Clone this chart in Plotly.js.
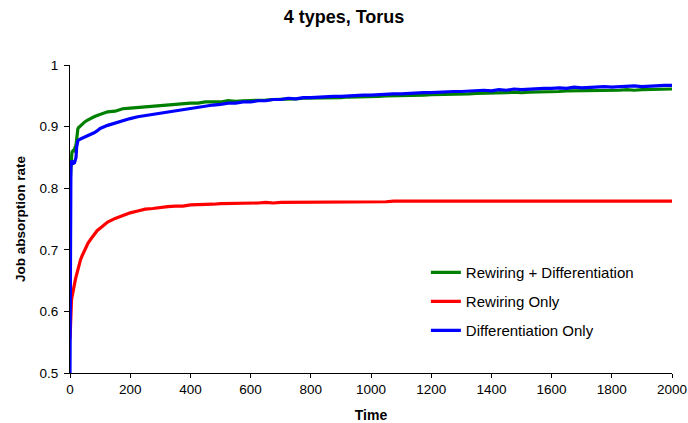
<!DOCTYPE html>
<html>
<head>
<meta charset="utf-8">
<script src="https://cdn.plot.ly/plotly-3.0.1.min.js"></script>
<style>
  html, body { margin: 0; padding: 0; background: #fff; }
  #chart { width: 688px; height: 423px; }
</style>
</head>
<body>
<div id="chart"></div>
<script>
// Time steps at which the absorption rate was sampled
const time = [
  0, 1, 2, 3, 4, 5, 6, 8, 10, 12, 14, 16, 18, 20, 22, 24, 26, 28, 30, 35, 40, 45, 50, 60, 70, 80, 90,
  100, 125, 150, 175, 200, 225, 250, 275, 300, 325, 350, 375, 400, 425, 450, 475,
  500, 525, 550, 575, 600, 625, 650, 675, 700, 725, 750, 775, 800, 825, 850, 875,
  900, 925, 950, 975, 1000, 1025, 1050, 1075, 1100, 1125, 1150, 1175, 1200, 1225, 1250, 1275,
  1300, 1325, 1350, 1375, 1400, 1425, 1450, 1475, 1500, 1525, 1550, 1575, 1600, 1625, 1650, 1675,
  1700, 1725, 1750, 1775, 1800, 1825, 1850, 1875, 1900, 1925, 1950, 1975, 2000
];

// Rewiring + Differentiation
const rewiringDiff = [
  0.805, 0.818, 0.829, 0.838, 0.846, 0.852, 0.856, 0.861, 0.859, 0.863, 0.862, 0.865, 0.864, 0.870, 0.884, 0.893, 0.896, 0.898, 0.899, 0.902, 0.904, 0.906, 0.908, 0.911, 0.914, 0.916, 0.918,
  0.920, 0.924, 0.925, 0.929, 0.930, 0.931, 0.933, 0.934, 0.934, 0.936, 0.937, 0.937, 0.938, 0.938, 0.940, 0.940,
  0.940, 0.942, 0.941, 0.942, 0.942, 0.943, 0.943, 0.944, 0.944, 0.945, 0.945, 0.946, 0.946, 0.946, 0.947, 0.947,
  0.947, 0.948, 0.948, 0.948, 0.949, 0.949, 0.950, 0.950, 0.950, 0.951, 0.951, 0.951, 0.952, 0.952, 0.952, 0.953,
  0.953, 0.953, 0.954, 0.954, 0.955, 0.955, 0.955, 0.956, 0.955, 0.956, 0.956, 0.957, 0.957, 0.957, 0.958, 0.958,
  0.958, 0.958, 0.958, 0.959, 0.959, 0.959, 0.960, 0.959, 0.960, 0.960, 0.960, 0.961, 0.961
];

// Rewiring Only
const rewiringOnly = [
  0.555, 0.575, 0.598, 0.610, 0.612, 0.618, 0.622, 0.628, 0.632, 0.638, 0.643, 0.648, 0.652, 0.656, 0.660, 0.664, 0.668, 0.672, 0.676, 0.684, 0.690, 0.696, 0.701, 0.711, 0.718, 0.725, 0.731,
  0.735, 0.745, 0.751, 0.756, 0.760, 0.763, 0.766, 0.767, 0.769, 0.770, 0.771, 0.771, 0.773, 0.773, 0.774, 0.774,
  0.775, 0.775, 0.776, 0.775, 0.776, 0.776, 0.777, 0.776, 0.777, 0.777, 0.777, 0.777, 0.778, 0.778, 0.777, 0.778,
  0.778, 0.778, 0.777, 0.778, 0.778, 0.778, 0.778, 0.779, 0.779, 0.778, 0.779, 0.779, 0.779, 0.778, 0.779, 0.779,
  0.779, 0.778, 0.779, 0.779, 0.779, 0.779, 0.778, 0.779, 0.779, 0.779, 0.778, 0.779, 0.779, 0.779, 0.779, 0.778,
  0.779, 0.779, 0.779, 0.779, 0.778, 0.779, 0.779, 0.779, 0.779, 0.779, 0.779, 0.779, 0.779
];

// Differentiation Only
const diffOnly = [
  0.500, 0.800, 0.822, 0.834, 0.840, 0.843, 0.845, 0.841, 0.838, 0.844, 0.840, 0.843, 0.846, 0.850, 0.866, 0.874, 0.877, 0.878, 0.879, 0.880, 0.881, 0.882, 0.883, 0.886, 0.888, 0.890, 0.893,
  0.897, 0.902, 0.906, 0.910, 0.913, 0.916, 0.918, 0.920, 0.922, 0.924, 0.926, 0.928, 0.930, 0.932, 0.933, 0.935,
  0.936, 0.938, 0.938, 0.940, 0.940, 0.942, 0.942, 0.944, 0.944, 0.946, 0.945, 0.947, 0.947, 0.948, 0.948, 0.949,
  0.949, 0.950, 0.950, 0.951, 0.951, 0.952, 0.952, 0.953, 0.953, 0.954, 0.954, 0.955, 0.955, 0.956, 0.956, 0.957,
  0.957, 0.958, 0.958, 0.959, 0.958, 0.960, 0.959, 0.961, 0.960, 0.961, 0.961, 0.962, 0.962, 0.963, 0.962, 0.964,
  0.963, 0.964, 0.964, 0.965, 0.964, 0.965, 0.965, 0.966, 0.965, 0.966, 0.966, 0.967, 0.967
];

const seriesNames = ['Rewiring + Differentiation', 'Rewiring Only', 'Differentiation Only'];
const xTicks = [0, 200, 400, 600, 800, 1000, 1200, 1400, 1600, 1800, 2000];
const yTicks = [0.5, 0.6, 0.7, 0.8, 0.9, 1];

const FONT = 'Arial, "Liberation Sans", sans-serif';

function line(y, name, color, legendId) {
  return {
    type: 'scatter', mode: 'lines', x: time, y: y, name: name,
    line: { color: color, width: 3.2 },
    legend: legendId
  };
}

const traces = [
  line(rewiringDiff, seriesNames[0], '#008000', 'legend'),
  line(rewiringOnly, seriesNames[1], '#ff0000', 'legend2'),
  line(diffOnly, seriesNames[2], '#0000ff', 'legend3')
];

const legendBase = {
  xref: 'container', yref: 'container',
  x: 0.619, xanchor: 'left', yanchor: 'middle',
  bgcolor: 'rgba(0,0,0,0)', borderwidth: 0,
  font: { family: FONT, size: 15, color: '#000' }
};

const layout = {
  width: 688, height: 423,
  margin: { l: 70, r: 16, t: 65, b: 50, autoexpand: false },
  paper_bgcolor: '#fff', plot_bgcolor: '#fff',
  font: { family: FONT, size: 13.5, color: '#000' },
  title: { text: '<b>4 types, Torus</b>', x: 0.5, xanchor: 'center', y: 0.96, yanchor: 'middle',
           font: { family: FONT, size: 18, color: '#000' } },
  xaxis: {
    range: [0, 2000], tickvals: xTicks, ticktext: xTicks.map(String),
    showgrid: false, zeroline: false, showline: true, linecolor: '#000', linewidth: 1,
    ticks: 'outside', ticklen: 4, tickcolor: '#000',
    title: { text: '<b>Time</b>', standoff: 17, font: { family: FONT, size: 14 } }
  },
  yaxis: {
    range: [0.5, 1], tickvals: yTicks, ticktext: ['0.5', '0.6', '0.7', '0.8', '0.9', '1'],
    showgrid: false, zeroline: false, showline: true, linecolor: '#000', linewidth: 1,
    ticks: 'outside', ticklen: 5, tickcolor: '#000', ticklabelstandoff: 3,
    title: { text: '<b>Job absorption rate</b>', standoff: 10, font: { family: FONT, size: 13.5 } }
  },
  legend: Object.assign({}, legendBase, { y: 1 - 272.7 / 423 }),
  legend2: Object.assign({}, legendBase, { y: 1 - 301.7 / 423 }),
  legend3: Object.assign({}, legendBase, { y: 1 - 330.7 / 423 }),
  showlegend: true
};

Plotly.newPlot('chart', traces, layout, { displayModeBar: false, staticPlot: true });
</script>
</body>
</html>
